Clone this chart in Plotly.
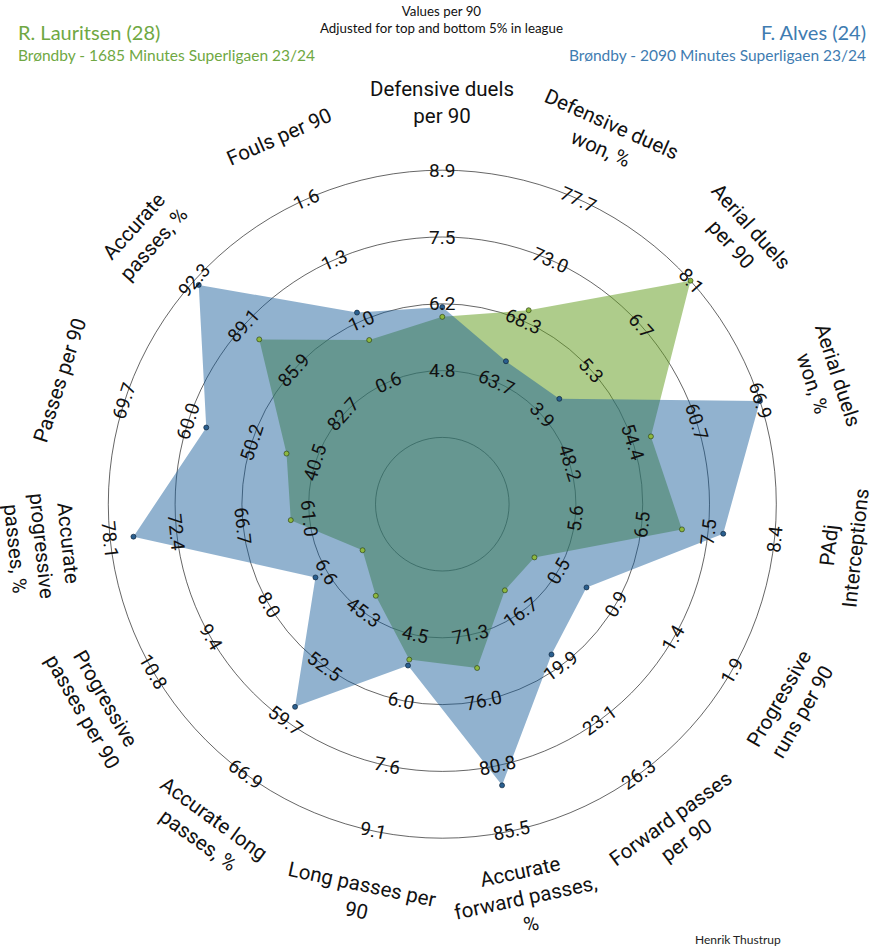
import math
import plotly.graph_objects as go

# ---------------- data ----------------
params = [
    "Defensive duels\nper 90",
    "Defensive duels\nwon, %",
    "Aerial duels\nper 90",
    "Aerial duels\nwon, %",
    "PAdj\nInterceptions",
    "Progressive\nruns per 90",
    "Forward passes\nper 90",
    "Accurate\nforward passes,\n%",
    "Long passes per\n90",
    "Accurate long\npasses, %",
    "Progressive\npasses per 90",
    "Accurate\nprogressive\npasses, %",
    "Passes per 90",
    "Accurate\npasses, %",
    "Fouls per 90",
]

ring_labels = [
    ["4.8", "6.2", "7.5", "8.9"],
    ["63.7", "68.3", "73.0", "77.7"],
    ["3.9", "5.3", "6.7", "8.1"],
    ["48.2", "54.4", "60.7", "66.9"],
    ["5.6", "6.5", "7.5", "8.4"],
    ["0.5", "0.9", "1.4", "1.9"],
    ["16.7", "19.9", "23.1", "26.3"],
    ["71.3", "76.0", "80.8", "85.5"],
    ["4.5", "6.0", "7.6", "9.1"],
    ["45.3", "52.5", "59.7", "66.9"],
    ["6.6", "8.0", "9.4", "10.8"],
    ["61.0", "66.7", "72.4", "78.1"],
    ["40.5", "50.2", "60.0", "69.7"],
    ["82.7", "85.9", "89.1", "92.3"],
    ["0.6", "1.0", "1.3", "1.6"],
]

lauritsen = [5.9, 69.2, 8.1, 56.2, 7.10, 0.31, 15.4, 73.7, 5.08, 43.1, 5.73, 62.6, 44.9, 88.1, 0.83]
alves = [6.1, 65.3, 4.4, 66.9, 7.68, 0.73, 19.2, 82.2, 5.22, 57.9, 6.87, 76.1, 57.2, 92.0, 0.98]

player_names = ["R. Lauritsen (28)", "F. Alves (24)"]
player_subs = ["Brøndby - 1685 Minutes Superligaen 23/24",
               "Brøndby - 2090 Minutes Superligaen 23/24"]
title_lines = ["Values per 90", "Adjusted for top and bottom 5% in league"]
credit = "Henrik Thustrup"

# ---------------- style ----------------
W, H = 882, 950
CX, CY, UNIT = 442.3, 504.2, 66.8
GREEN_TXT = "#6fa843"
BLUE_TXT = "#3f7cb1"
GREEN_FILL = "rgba(100,158,32,0.52)"
BLUE_FILL = "rgba(22,92,152,0.47)"
GREEN_DOT = "#8db83f"
BLUE_DOT = "#2a5f8f"

n = len(params)
angles = [90 - 360.0 / n * k for k in range(n)]


def bounds(labels):
    v = [float(s) for s in labels]
    step = (v[-1] - v[0]) / (len(v) - 1)
    return v[0] - step, v[-1]


def radius(val, lo, hi):
    r = 1 + 4 * (val - lo) / (hi - lo)
    return min(max(r, 1.0), 5.0)


def rotation(k):
    rot = (-360.0 / n * k) % 360
    if 90 < rot < 270:
        rot -= 180
    elif rot >= 270:
        rot -= 360
    return -rot  # plotly textangle is clockwise


def polygon(values):
    xs, ys = [], []
    for k, v in enumerate(values):
        lo, hi = bounds(ring_labels[k])
        r = radius(v, lo, hi)
        a = math.radians(angles[k])
        xs.append(r * math.cos(a))
        ys.append(r * math.sin(a))
    return xs, ys


fig = go.Figure()

gx, gy = polygon(lauritsen)
bx, by = polygon(alves)

fig.add_trace(go.Scatter(x=gx + gx[:1], y=gy + gy[:1], mode="lines", fill="toself",
                         fillcolor=GREEN_FILL, line=dict(width=0), hoverinfo="skip",
                         showlegend=False))
fig.add_trace(go.Scatter(x=bx + bx[:1], y=by + by[:1], mode="lines", fill="toself",
                         fillcolor=BLUE_FILL, line=dict(width=0), hoverinfo="skip",
                         showlegend=False))
fig.add_trace(go.Scatter(x=gx, y=gy, mode="markers",
                         marker=dict(size=5, color=GREEN_DOT,
                                     line=dict(color="rgba(40,60,20,0.8)", width=0.8)),
                         showlegend=False))
fig.add_trace(go.Scatter(x=bx, y=by, mode="markers",
                         marker=dict(size=5, color=BLUE_DOT,
                                     line=dict(color="rgba(10,30,50,0.8)", width=0.8)),
                         showlegend=False))

shapes = []
for r in range(1, 6):
    shapes.append(dict(type="circle", xref="x", yref="y", x0=-r, y0=-r, x1=r, y1=r,
                       line=dict(color="rgba(0,0,0,0.6)", width=1), layer="below"))

annotations = []
for k in range(n):
    a = math.radians(angles[k])
    ta = rotation(k)
    for i, lab in enumerate(ring_labels[k]):
        r = i + 2
        annotations.append(dict(x=r * math.cos(a), y=r * math.sin(a), xref="x", yref="y",
                                text=lab, showarrow=False, textangle=ta,
                                xanchor="center", yanchor="middle",
                                font=dict(family="Roboto", size=19, color="#111111")))
    rl = 6.02
    annotations.append(dict(x=rl * math.cos(a), y=rl * math.sin(a), xref="x", yref="y",
                            text=params[k].replace("\n", "<br>"), showarrow=False,
                            textangle=ta, xanchor="center", yanchor="middle", align="center",
                            font=dict(family="Roboto", size=20.5, color="#111111")))


def py(p):
    return 1 - p / H


annotations += [
    dict(x=16 / W, y=py(32), xref="paper", yref="paper", text=player_names[0],
         showarrow=False, xanchor="left", yanchor="middle",
         font=dict(family="Lato", size=20, color=GREEN_TXT)),
    dict(x=16 / W, y=py(55.5), xref="paper", yref="paper", text=player_subs[0],
         showarrow=False, xanchor="left", yanchor="middle",
         font=dict(family="Lato", size=15.5, color=GREEN_TXT)),
    dict(x=868 / W, y=py(32), xref="paper", yref="paper", text=player_names[1],
         showarrow=False, xanchor="right", yanchor="middle",
         font=dict(family="Lato", size=20, color=BLUE_TXT)),
    dict(x=868 / W, y=py(55.5), xref="paper", yref="paper", text=player_subs[1],
         showarrow=False, xanchor="right", yanchor="middle",
         font=dict(family="Lato", size=15.5, color=BLUE_TXT)),
    dict(x=441 / W, y=py(19), xref="paper", yref="paper",
         text="<br>".join(title_lines), align="center", borderpad=0,
         showarrow=False, xanchor="center", yanchor="middle",
         font=dict(family="Lato", size=13.3, color="#111111")),
    dict(x=738 / W, y=py(939), xref="paper", yref="paper", text=credit,
         showarrow=False, xanchor="center", yanchor="middle",
         font=dict(family="Lato", size=12, color="#222222")),
]

fig.update_layout(
    width=W, height=H,
    margin=dict(l=0, r=0, t=0, b=0),
    paper_bgcolor="white", plot_bgcolor="white",
    xaxis=dict(range=[-CX / UNIT, (W - CX) / UNIT], visible=False, fixedrange=True),
    yaxis=dict(range=[(CY - H) / UNIT, CY / UNIT], visible=False, fixedrange=True),
    shapes=shapes,
    annotations=annotations,
    showlegend=False,
)

fig.write_html("out.html")
